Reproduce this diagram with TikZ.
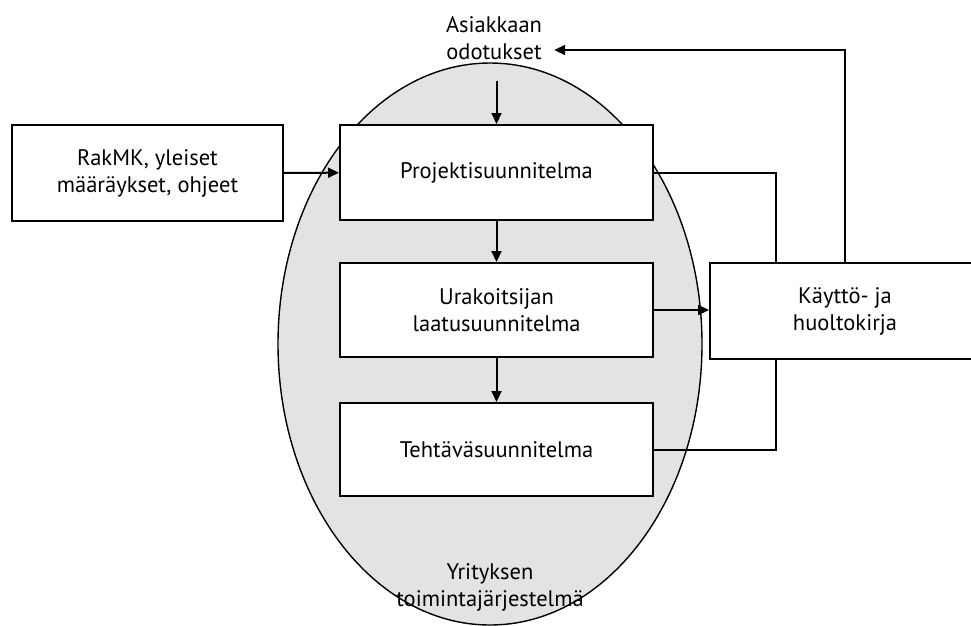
\documentclass[tikz,border=0pt]{standalone}
\usepackage{fontspec}
\setmainfont{PT Sans}
\usetikzlibrary{arrows.meta,calc}
\begin{document}
\begin{tikzpicture}[x=1pt,y=-1pt,
  box/.style={draw=black,line width=2pt,fill=white,align=center,inner sep=0pt,
    font=\fontsize{22.5}{27}\selectfont},
  lbl/.style={align=center,inner sep=0pt,font=\fontsize{22.5}{27}\selectfont},
  conn/.style={line width=2pt},
  arr/.style={line width=2pt,-{Triangle[length=11pt,width=10pt]}}]
\useasboundingbox (0,0) rectangle (971,625);
\fill[fill={rgb,255:red,227;green,227;blue,227}] (490,344) ellipse [x radius=212, y radius=281];
\draw[line width=1.4pt] (490,344) ellipse [x radius=212, y radius=281];
\node[box,minimum width=271pt,minimum height=96pt] (rak) at (147.5,173) {RakMK, yleiset\\määräykset, ohjeet};
\node[box,minimum width=313pt,minimum height=95pt] (proj) at (496.5,172.5) {Projektisuunnitelma};
\node[box,minimum width=313pt,minimum height=94pt] (ura) at (496.5,310) {Urakoitsijan\\laatusuunnitelma};
\node[box,minimum width=313pt,minimum height=93pt] (teh) at (496.5,449.5) {Tehtäväsuunnitelma};
\node[box,minimum width=270pt,minimum height=96pt] (kay) at (845,311) {Käyttö- ja\\huoltokirja};
\node[lbl] (ask) at (494,38) {Asiakkaan\\odotukset};
\node[lbl] (yri) at (490,587) {Yrityksen\\toimintajärjestelmä};
\draw[arr] ([yshift=43pt]proj.north) -- (proj.north);
\draw[arr] (rak) -- (proj);
\draw[arr] (proj) -- (ura);
\draw[arr] (ura) -- (teh);
\draw[arr] (ura.east) -- (ura.east -| kay.west);
\draw[conn] (proj.east) -| ([xshift=-69pt]kay.north);
\draw[conn] (teh.east) -| ([xshift=-69pt]kay.south);
\draw[arr] (kay.north) |- ([xshift=12pt,yshift=-12pt]ask.east);
\end{tikzpicture}
\end{document}
